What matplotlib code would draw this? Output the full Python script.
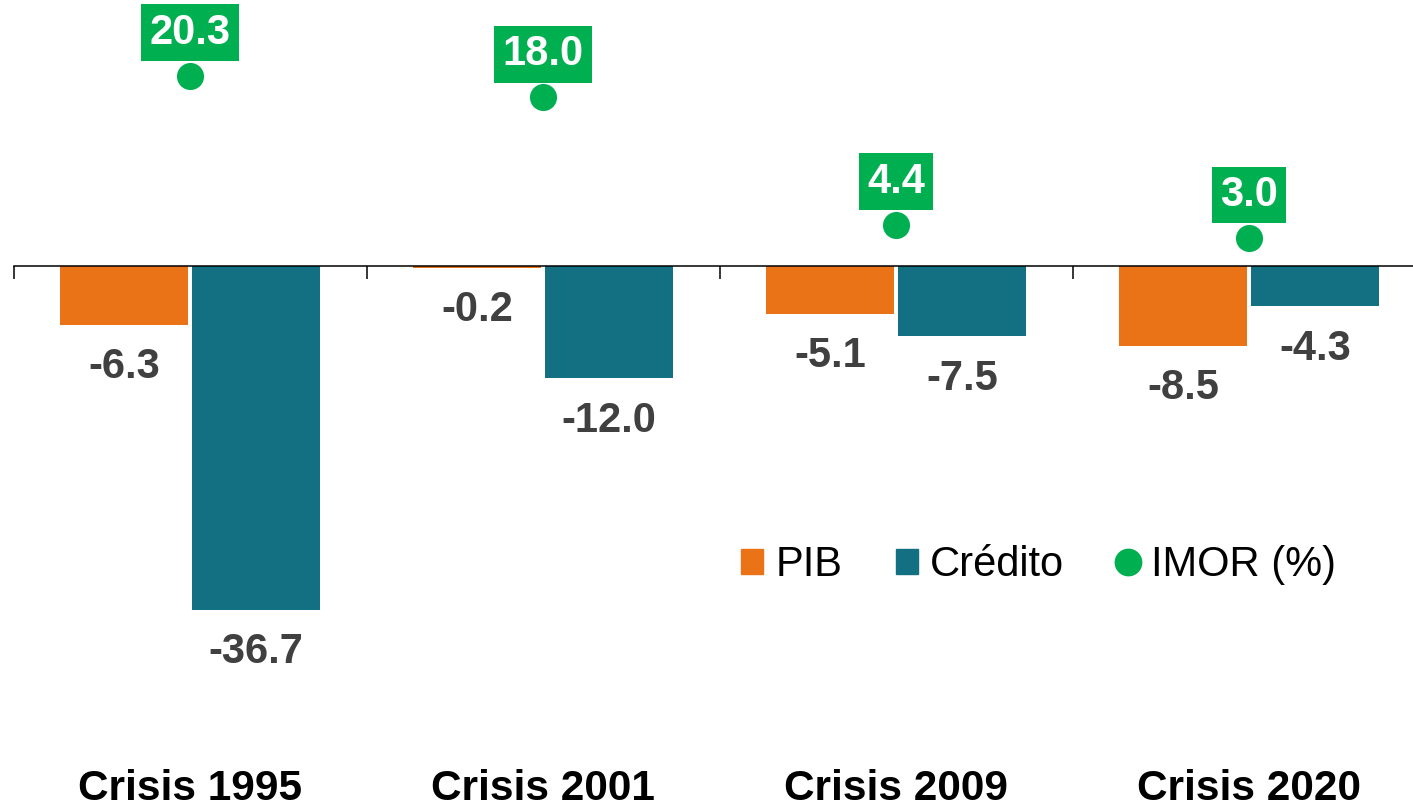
import matplotlib
matplotlib.use("Agg")
import matplotlib.pyplot as plt
from matplotlib.patches import Patch
from matplotlib.lines import Line2D
import numpy as np

plt.rcParams['font.family'] = ['Liberation Sans', 'DejaVu Sans']

categorias = ["Crisis 1995", "Crisis 2001", "Crisis 2009", "Crisis 2020"]
pib = [-6.3, -0.2, -5.1, -8.5]
credito = [-36.7, -12.0, -7.5, -4.3]
imor = [20.3, 18.0, 4.4, 3.0]

c_pib = "#EA7317"
c_cred = "#127082"
c_imor = "#00B050"
c_txt = "#404040"

W, H = 1413, 807
fig = plt.figure(figsize=(W / 100, H / 100), dpi=100)
left = 13.5 / W
ax = fig.add_axes([left, 0, 1 - left, 1])

x = np.arange(len(categorias))
off = 0.187
bw = 0.36
ax.bar(x - off, pib, bw, color=c_pib, zorder=2)
ax.bar(x + off, credito, bw, color=c_cred, zorder=2)
ax.scatter(x, imor, s=19.5 ** 2, color=c_imor, zorder=3, linewidths=0)

# etiquetas de las barras
for xi, v in zip(x - off, pib):
    ax.annotate(f"{v:.1f}", (xi, v), xytext=(0, -30.5), textcoords="offset points",
                ha="center", va="center", fontsize=30, fontweight="bold", color=c_txt)
for xi, v in zip(x + off, credito):
    ax.annotate(f"{v:.1f}", (xi, v), xytext=(0, -30.5), textcoords="offset points",
                ha="center", va="center", fontsize=30, fontweight="bold", color=c_txt)
for xi, v in zip(x, imor):
    ax.annotate(f"{v:.1f}", (xi, v), xytext=(0, 31), textcoords="offset points",
                ha="center", va="center", fontsize=30, fontweight="bold", color="white",
                bbox=dict(boxstyle="square,pad=0.2", fc=c_imor, ec="none"))

for xi, lab in zip(x, categorias):
    ax.text(xi, 7 / H, lab, transform=ax.get_xaxis_transform(), ha="center",
            va="baseline", fontsize=30.5, fontweight="bold", color="black")

ax.set_xlim(-0.5, (W - 190) / 353.0)
ax.set_ylim(-(H - 266) / 9.37, 266 / 9.37)

for s in ["top", "right", "left"]:
    ax.spines[s].set_visible(False)
ax.spines["bottom"].set_position(("data", 0))
ax.spines["bottom"].set_linewidth(1.1)
ax.set_xticks([-0.5, 0.5, 1.5, 2.5])
ax.tick_params(axis="x", direction="out", length=9.4, width=1.1, labelbottom=False)
ax.set_yticks([])

handles = [Patch(color=c_pib, label="PIB"),
           Patch(color=c_cred, label="Crédito"),
           Line2D([], [], marker="o", linestyle="none", markersize=20,
                  markerfacecolor=c_imor, markeredgewidth=0, label="IMOR (%)")]
fig.legend(handles=handles, loc="center left", bbox_to_anchor=(741 / W, 1 - 565 / H),
           ncol=3, frameon=False, fontsize=30, handlelength=0.53, handleheight=0.53,
           handletextpad=0.29, columnspacing=1.28, borderpad=0, borderaxespad=0)

fig.savefig("out.png", dpi=100)
